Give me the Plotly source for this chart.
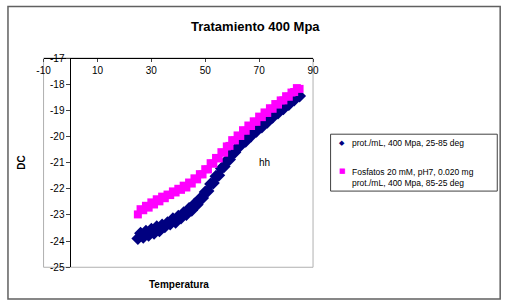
import plotly.graph_objects as go

temps = list(range(25, 86))

dc_heating = [
    -23.90, -23.70, -23.85, -23.62, -23.78, -23.55, -23.70, -23.45, -23.60, -23.38,
    -23.45, -23.30, -23.35, -23.15, -23.28, -23.05, -23.12, -22.92, -22.98, -22.75,
    -22.82, -22.58, -22.60, -22.38, -22.35, -22.12, -22.08, -21.82, -21.78, -21.52,
    -21.48, -21.22, -21.15, -20.92, -20.88, -20.62, -20.60, -20.40, -20.35, -20.15,
    -20.18, -19.95, -19.98, -19.78, -19.80, -19.58, -19.64, -19.40, -19.46, -19.22,
    -19.26, -19.05, -19.10, -18.90, -18.94, -18.74, -18.78, -18.56, -18.60, -18.42,
    -18.45,
]

dc_cooling = [
    -22.98, -22.78, -22.82, -22.65, -22.72, -22.52, -22.60, -22.40, -22.48, -22.30,
    -22.36, -22.22, -22.24, -22.10, -22.14, -22.00, -22.04, -21.88, -21.95, -21.76,
    -21.80, -21.60, -21.64, -21.44, -21.45, -21.25, -21.26, -21.02, -21.04, -20.82,
    -20.84, -20.60, -20.62, -20.38, -20.36, -20.14, -20.15, -19.96, -19.98, -19.76,
    -19.78, -19.58, -19.60, -19.42, -19.44, -19.24, -19.26, -19.08, -19.10, -18.92,
    -18.94, -18.76, -18.78, -18.62, -18.62, -18.46, -18.48, -18.32, -18.30, -18.15,
    -18.18,
]

series_names = [
    "prot./mL, 400 Mpa, 25-85 deg",
    "Fosfatos 20 mM, pH7, 0.020 mg<br>prot./mL, 400 Mpa, 85-25 deg",
]
x_ticks = [-10, 10, 30, 50, 70, 90]
x_tick_text = ["-10", "10", "30", "50", "70", "90"]
y_ticks = [-25, -24, -23, -22, -21, -20, -19, -18, -17]
y_tick_text = ["-25", "-24", "-23", "-22", "-21", "-20", "-19", "-18", "-17"]

W, H = 513, 307
FONT = "Arial, Liberation Sans, sans-serif"
NAVY = "#000080"
PINK = "#FF00FF"

def px(x):
    return x / W

def py(y):
    return 1 - y / H

fig = go.Figure()
fig.add_trace(go.Scatter(x=temps, y=dc_heating, mode="markers", name=series_names[0],
                         marker=dict(symbol="diamond", size=10, color=NAVY, line=dict(width=0)),
                         showlegend=False, cliponaxis=False))
fig.add_trace(go.Scatter(x=temps, y=dc_cooling, mode="markers", name=series_names[1],
                         marker=dict(symbol="square", size=8, color=PINK, line=dict(width=0)),
                         showlegend=False, cliponaxis=False))

x0, x1 = 37.5, 314
y0, y1 = 55, 272

fig.update_layout(
    width=W, height=H,
    margin=dict(l=0, r=0, t=0, b=0),
    paper_bgcolor="white", plot_bgcolor="white",
    font=dict(family=FONT, color="black", size=10),
    xaxis=dict(domain=[px(x0), px(x1)], range=[-10, 90], tickvals=x_ticks, ticktext=x_tick_text,
               side="bottom", anchor="free", position=py(y0),
               ticks="outside", ticklen=3,
               showline=True, linecolor="black", linewidth=1, showgrid=False,
               zeroline=False, tickfont=dict(size=10)),
    yaxis=dict(domain=[py(y1), py(y0)], range=[-25.0001, -16.9999], tickvals=y_ticks,
               ticktext=y_tick_text,
               anchor="free", position=px(65.1), ticks="outside", ticklen=4,
               showline=True, linecolor="black", linewidth=1, showgrid=False,
               zeroline=False, tickfont=dict(size=10)),
    showlegend=False,
)

shapes = [
    dict(type="rect", xref="paper", yref="paper", x0=px(x0), x1=px(x1), y0=py(y1), y1=py(y0),
         line=dict(color="#B0B0B0", width=1), layer="below"),
    dict(type="rect", xref="paper", yref="paper", x0=px(1), x1=px(506), y0=py(305), y1=py(1.5),
         line=dict(color="#606060", width=1.5)),
    dict(type="rect", xref="paper", yref="paper", x0=px(332), x1=px(503), y0=py(193), y1=py(134),
         line=dict(color="#404040", width=1)),
]
fig.update_layout(shapes=shapes)

annotations = [
    dict(text="<b>Tratamiento 400 Mpa</b>", x=px(255), y=py(22), xref="paper", yref="paper",
         showarrow=False, xanchor="center", yanchor="middle", font=dict(size=13)),
    dict(text="<b>DC</b>", x=px(15), y=py(164), xref="paper", yref="paper", textangle=-90,
         showarrow=False, xanchor="center", yanchor="middle", font=dict(size=10)),
    dict(text="<b>Temperatura</b>", x=px(176), y=py(290), xref="paper", yref="paper",
         showarrow=False, xanchor="center", yanchor="middle", font=dict(size=10)),
    dict(text="hh", x=72, y=-21, xref="x", yref="y", showarrow=False,
         xanchor="center", yanchor="middle", font=dict(size=10)),
    dict(text="◆", x=px(344), y=py(143), xref="paper", yref="paper", showarrow=False,
         xanchor="center", yanchor="middle", font=dict(size=7, color=NAVY, family="DejaVu Sans")),
    dict(text=series_names[0], x=px(352), y=py(143), xref="paper", yref="paper", showarrow=False,
         xanchor="left", yanchor="middle", font=dict(size=8.5)),
    dict(text="■", x=px(344), y=py(172), xref="paper", yref="paper", showarrow=False,
         xanchor="center", yanchor="middle", font=dict(size=7, color=PINK, family="DejaVu Sans")),
    dict(text=series_names[1], x=px(352), y=py(178.5), xref="paper", yref="paper", showarrow=False,
         xanchor="left", yanchor="middle", align="left", font=dict(size=8.5)),
]
fig.update_layout(annotations=annotations)

fig.write_html("out.html")
